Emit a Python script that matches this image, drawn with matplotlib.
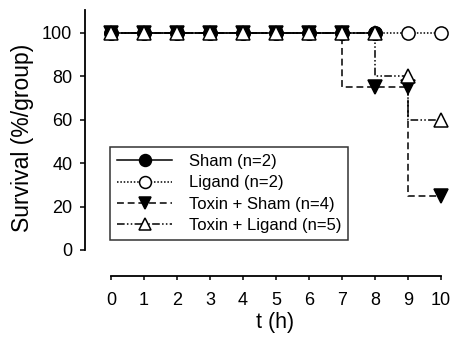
import matplotlib
matplotlib.use("Agg")
import matplotlib.pyplot as plt

plt.rcParams['font.family'] = ['Liberation Sans', 'DejaVu Sans']

# survival curves, % of group alive at each hour
hours = [0, 1, 2, 3, 4, 5, 6, 7, 8, 9, 10]
sham = [100, 100, 100, 100, 100, 100, 100, 100, 100]
ligand = [100, 100, 100, 100, 100, 100, 100, 100, 100, 100, 100]
toxin_sham = [100, 100, 100, 100, 100, 100, 100, 100, 75, 75, 25]
toxin_ligand = [100, 100, 100, 100, 100, 100, 100, 100, 100, 80, 60]

labels = ["Sham (n=2)", "Ligand (n=2)", "Toxin + Sham (n=4)", "Toxin + Ligand (n=5)"]

fig = plt.figure(figsize=(4.51, 3.4), dpi=100)
ax = fig.add_axes([85 / 451, 1 - 276 / 340, 366 / 451, 266 / 340])

lw = 1.1
ms = 9.5
common = dict(color='black', lw=lw, markeredgewidth=1.1, clip_on=False,
              drawstyle='steps-pre')

l_lig, = ax.plot(hours[:len(ligand)], ligand, ls=(0, (1, 1.2)), marker='o', ms=ms,
                 markerfacecolor='white', zorder=3, **common)
l_ts, = ax.plot(hours[:len(toxin_sham)], toxin_sham, ls=(0, (4.5, 2.5)), marker='v',
                ms=ms, markerfacecolor='black', zorder=4, **common)
l_sham, = ax.plot(hours[:len(sham)], sham, ls='-', marker='o', ms=ms,
                  markerfacecolor='black', zorder=5, **common)
l_tl, = ax.plot(hours[:len(toxin_ligand)], toxin_ligand,
                ls=(0, (5, 1.5, 1, 1.5, 1, 1.5)), marker='^', ms=ms,
                markerfacecolor='white', zorder=6, **common)

ax.set_xlim(-0.788, 10.30)
ax.set_ylim(-12.0, 110.6)

for s in ['top', 'right']:
    ax.spines[s].set_visible(False)
ax.spines['left'].set_bounds(0, 110.6)
ax.spines['bottom'].set_bounds(0, 10)
ax.spines['left'].set_linewidth(1.3)
ax.spines['bottom'].set_linewidth(1.3)

ax.set_xticks(hours)
ax.set_yticks([0, 20, 40, 60, 80, 100])
ax.tick_params(axis='y', direction='out', length=3.6, width=1.1, pad=5.5, labelsize=13)
ax.tick_params(axis='x', direction='out', length=3, width=1.1, pad=8.5, labelsize=13)

ax.set_xlabel("t (h)", fontsize=15.5)
ax.set_ylabel("Survival (%/group)", fontsize=16.5)
ax.xaxis.set_label_coords(0.52, -0.135)
ax.yaxis.set_label_coords(-0.14, 0.52)

leg = ax.legend([l_sham, l_lig, l_ts, l_tl], labels, loc='upper left',
                bbox_to_anchor=(110 / 451, 1 - 147 / 340), bbox_transform=fig.transFigure,
                fontsize=12, frameon=True, fancybox=False, numpoints=1, markerscale=0.9,
                handlelength=3.3, handletextpad=1.0, borderpad=0.42,
                labelspacing=0.38, borderaxespad=0)
leg.get_frame().set_edgecolor('black')
leg.get_frame().set_linewidth(1.1)
for h in leg.legend_handles:
    h.set_drawstyle('default')

fig.savefig("out.png", dpi=100)
